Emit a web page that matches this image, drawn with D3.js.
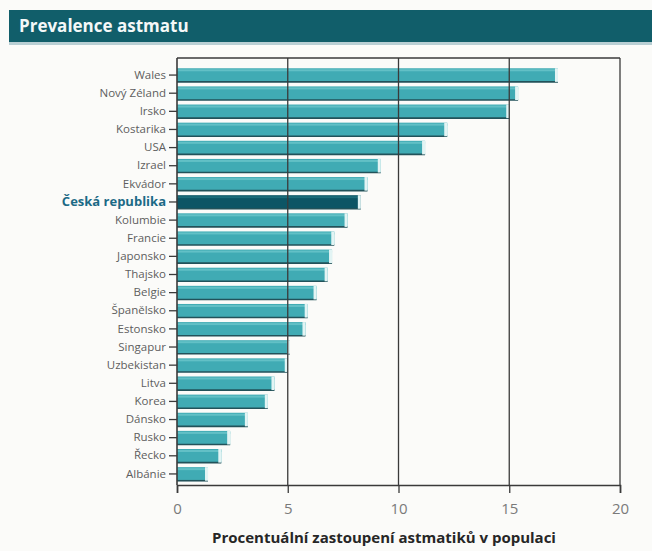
<!DOCTYPE html>
<html><head><meta charset="utf-8">
<script src="https://cdn.jsdelivr.net/npm/d3@7"></script>
<style>
body{margin:0;background:#fbfbf9;}
svg{display:block;}
</style></head>
<body>
<svg id="c" width="652" height="551"></svg>
<script>
const title = "Prevalence astmatu";
const axisTitle = "Procentuální zastoupení astmatiků v populaci";
const countries = ["Wales","Nový Zéland","Irsko","Kostarika","USA","Izrael","Ekvádor","Česká republika","Kolumbie","Francie","Japonsko","Thajsko","Belgie","Španělsko","Estonsko","Singapur","Uzbekistan","Litva","Korea","Dánsko","Rusko","Řecko","Albánie"];
const prevalence = [17.2,15.4,15.0,12.2,11.2,9.2,8.6,8.3,7.7,7.1,7.0,6.8,6.3,5.9,5.8,5.1,5.0,4.4,4.1,3.2,2.4,2.0,1.4];
const highlighted = ["Česká republika"];
const xTicks = [0,5,10,15,20];

(function(){
const svg = d3.select("#c");
const W = 652, H = 551;

// header
svg.append("rect").attr("x",9).attr("y",10).attr("width",W-9).attr("height",32).attr("fill","#115e6a");
svg.append("rect").attr("x",9).attr("y",42).attr("width",W-9).attr("height",3).attr("fill","#b9cfd4");
svg.append("text").attr("x",19).attr("y",32).attr("fill","#f4f8f8")
  .attr("font-family","Open Sans, sans-serif").attr("font-weight","bold").attr("font-size",17)
  .text(title);

const x = d3.scaleLinear().domain([0,20]).range([177,620]);
const y = d3.scaleBand().domain(countries).range([66,483]).paddingInner(0.25).paddingOuter(0.125);
const plotTop = 58, plotBottom = 485;

const data = countries.map((c,i)=>({c, v: prevalence[i]}));

// bars
const g = svg.append("g");
const bars = g.selectAll("g.bar").data(data).join("g").attr("class","bar");
bars.append("rect")
  .attr("x", x(0)).attr("y", d=>y(d.c))
  .attr("width", d=>x(d.v)-x(0)).attr("height", y.bandwidth())
  .attr("fill", d=>highlighted.includes(d.c) ? "#0d5565" : "#40abb4");
bars.append("rect")
  .attr("x", x(0)).attr("y", d=>y(d.c)+1)
  .attr("width", d=>x(d.v)-x(0)).attr("height", 2)
  .attr("fill", d=>highlighted.includes(d.c) ? "#1d6c7a" : "#62c0c6");
bars.append("line")
  .attr("x1", x(0)).attr("x2", d=>x(d.v))
  .attr("y1", d=>y(d.c)+y.bandwidth()).attr("y2", d=>y(d.c)+y.bandwidth())
  .attr("stroke","#22525a").attr("stroke-width",1.6);
bars.append("rect")
  .attr("x", d=>x(d.v)-3).attr("y", d=>y(d.c))
  .attr("width", 3).attr("height", y.bandwidth())
  .attr("fill","#e2f4f4");

// grid lines & frame
const gridCol = "#3a3a3a";
svg.selectAll("line.grid").data(xTicks.filter(t=>t>0)).join("line").attr("class","grid")
  .attr("x1",d=>x(d)).attr("x2",d=>x(d)).attr("y1",plotTop).attr("y2",plotBottom)
  .attr("stroke",gridCol).attr("stroke-width",1.3);
svg.append("line").attr("x1",x(0)).attr("x2",x(20)).attr("y1",plotTop).attr("y2",plotTop)
  .attr("stroke",gridCol).attr("stroke-width",1.3);

// bottom axis
const xAxis = svg.append("g").attr("transform",`translate(0,${plotBottom})`)
  .call(d3.axisBottom(x).tickValues(xTicks).tickSize(8).tickPadding(10));
xAxis.select(".domain").attr("stroke",gridCol).attr("stroke-width",1.6);
xAxis.selectAll(".tick line").attr("stroke",gridCol).attr("stroke-width",1.3);
xAxis.selectAll(".tick text").attr("fill","#7a7a7a").attr("font-size",15)
  .attr("font-family","Open Sans, sans-serif");

// left axis
const yAxis = svg.append("g").attr("transform",`translate(${x(0)},0)`)
  .call(d3.axisLeft(y).tickSize(8).tickPadding(3));
yAxis.select(".domain").attr("d",`M0,${plotTop}V${plotBottom}`).attr("stroke",gridCol).attr("stroke-width",1.6);
yAxis.selectAll(".tick line").attr("stroke",gridCol).attr("stroke-width",1.3);
yAxis.selectAll(".tick text")
  .attr("font-family","Open Sans, sans-serif")
  .attr("font-size",d=>highlighted.includes(d)?13:11.5)
  .attr("font-weight",d=>highlighted.includes(d)?"bold":"normal")
  .attr("fill",d=>highlighted.includes(d)?"#1b6a86":"#5e5e5e");

// axis title
svg.append("text").attr("x",384).attr("y",543).attr("text-anchor","middle")
  .attr("font-family","Open Sans, sans-serif").attr("font-weight","bold").attr("font-size",15)
  .attr("fill","#262626").text(axisTitle);
})();
</script>
</body></html>
